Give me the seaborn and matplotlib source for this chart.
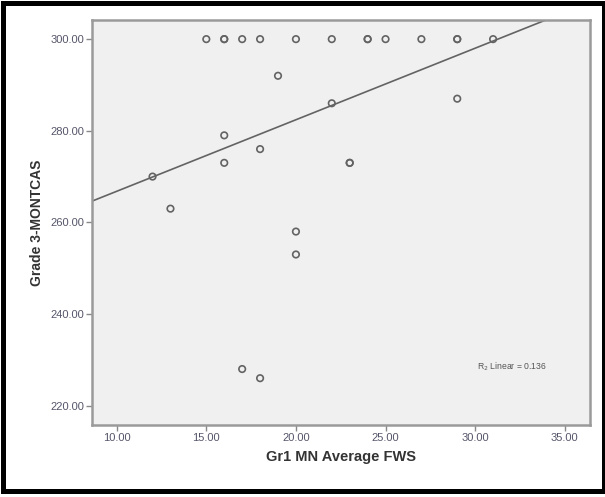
import numpy as np
import pandas as pd
import matplotlib
matplotlib.use("Agg")
import matplotlib.pyplot as plt
from matplotlib.patches import Rectangle
import seaborn as sns

# Gr1 MN Average FWS vs Grade 3 MONTCAS
fws = [15, 16, 16, 17, 18, 20, 22, 24, 24, 25, 27, 29, 29, 31,
       19, 29, 22, 16, 18, 16, 23, 23, 12, 13, 20, 20, 17, 18]
montcas = [300, 300, 300, 300, 300, 300, 300, 300, 300, 300, 300, 300, 300, 300,
           292, 287, 286, 279, 276, 273, 273, 273, 270, 263, 258, 253, 228, 226]
x_ticks = [10, 15, 20, 25, 30, 35]
y_ticks = [220, 240, 260, 280, 300]

df = pd.DataFrame({"fws": fws, "montcas": montcas})

sns.set_style("white")
plt.rcParams['font.family'] = ['Liberation Sans', 'DejaVu Sans']

fig = plt.figure(figsize=(6.05, 4.97), dpi=100)
ax = fig.add_axes([0.152, 0.145, 0.823, 0.815])
ax.set_facecolor("#f0f0f0")
ax.set_xlim(8.62, 36.4)
ax.set_ylim(215.8, 304.2)

sns.scatterplot(data=df, x="fws", y="montcas", ax=ax, marker="o",
                s=22, facecolor="none", edgecolor="#636363", linewidth=1.2)
sns.regplot(data=df, x="fws", y="montcas", ax=ax, scatter=False, ci=None,
            truncate=False, line_kws=dict(color="#636363", lw=1.2))

r2 = np.corrcoef(fws, montcas)[0, 1] ** 2
ax.text(0.843, 0.143, "R$_2$ Linear = %.3f" % r2, transform=ax.transAxes,
        fontsize=6.2, color="#555555", ha="center", va="center")

ax.set_xticks(x_ticks)
ax.set_yticks(y_ticks)
ax.set_xticklabels(["%.2f" % v for v in x_ticks])
ax.set_yticklabels(["%.2f" % v for v in y_ticks])
ax.tick_params(axis="both", which="major", direction="out", length=4, width=1,
               color="#888888", labelsize=8, labelcolor="#55556a", pad=1.5,
               bottom=True, left=True)
for sp in ax.spines.values():
    sp.set_color("#9a9a9a")
    sp.set_linewidth(1.8)

ax.set_xlabel("Gr1 MN Average FWS", fontsize=10.5, fontweight="bold",
              color="#333333", labelpad=5)
ax.set_ylabel("Grade 3-MONTCAS", fontsize=10, fontweight="bold",
              color="#333333", labelpad=5)

# black frame around the whole picture
fig.patches.append(Rectangle((2.5 / 605, 6.5 / 497), 601 / 605, 488 / 497,
                             transform=fig.transFigure, fill=False,
                             edgecolor="black", linewidth=3.6, zorder=10))

fig.savefig("out.png", dpi=100)
